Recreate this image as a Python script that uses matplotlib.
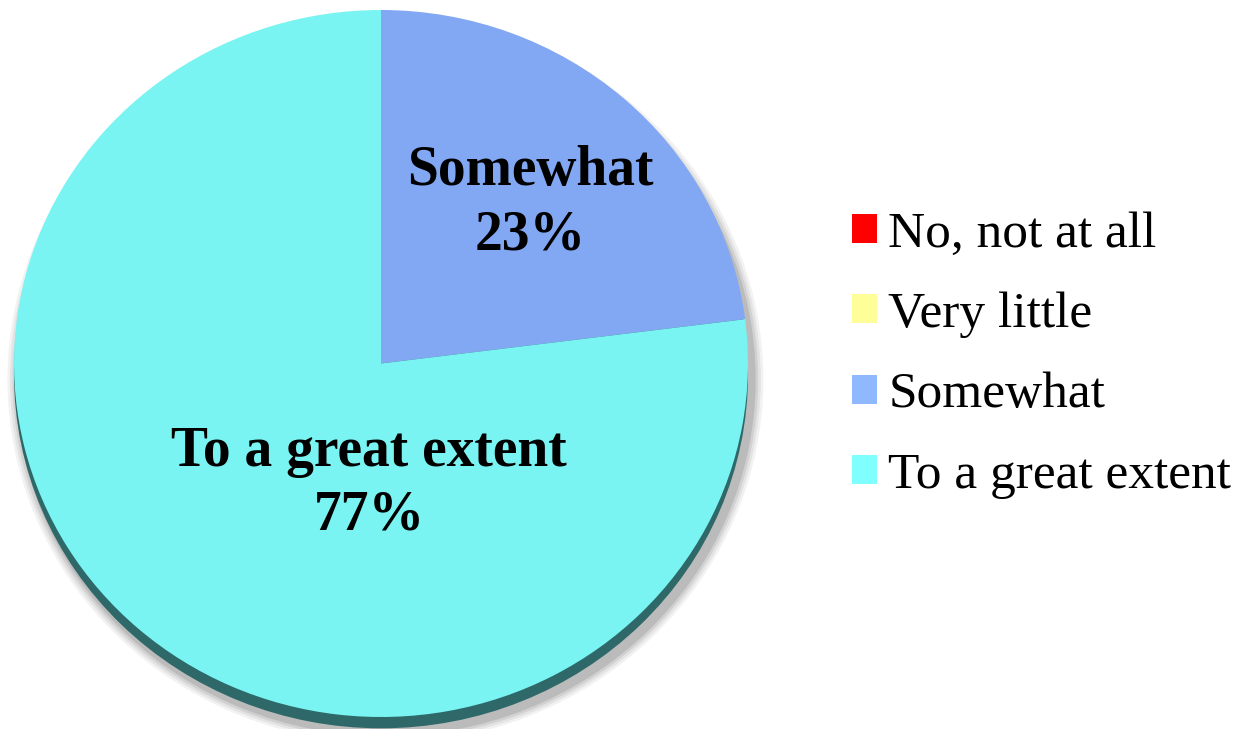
import matplotlib
matplotlib.use("Agg")
import matplotlib.pyplot as plt
from matplotlib.patches import Ellipse, Patch

categories = ["No, not at all", "Very little", "Somewhat", "To a great extent"]
values = [0, 0, 23, 77]
face_colors = ["#FF0000", "#FFFF99", "#82A7F3", "#79F4F2"]
legend_colors = ["#FF0000", "#FFFF99", "#8FB8FF", "#80FFFF"]

plt.rcParams['font.family'] = ['Liberation Serif', 'DejaVu Serif']

W, H = 1239, 729
fig = plt.figure(figsize=(W / 100, H / 100), dpi=100)

# pie bounding box in pixels
left, right, top, bottom = 14, 748, 10, 717
ax = fig.add_axes([left / W, 1 - bottom / H, (right - left) / W, (bottom - top) / H])

# soft gray drop shadow
for i, a in enumerate([0.05, 0.06, 0.08, 0.10]):
    grow = 0.030 - i * 0.007
    ax.add_patch(Ellipse((0.012, -0.045), 2 + grow * 2, 2 + grow * 2,
                         facecolor="#000000", alpha=a, edgecolor="none",
                         clip_on=False, zorder=0))
# extruded side
ax.add_patch(Ellipse((0, -0.032), 2, 2, facecolor="#2F6868",
                     edgecolor="none", clip_on=False, zorder=1))

wedges, _ = ax.pie(values, colors=face_colors, startangle=90,
                   counterclock=False, radius=1, center=(0, 0),
                   wedgeprops=dict(linewidth=0, edgecolor="none"),
                   frame=True)
for w in wedges:
    w.set_zorder(2)
    w.set_clip_on(False)
ax.set_aspect('auto')
ax.set_xlim(-1, 1)
ax.set_ylim(-1, 1)
ax.axis('off')

# label centers in pixels -> axes fraction
label_px = {2: (530, 203), 3: (369, 484)}
for i, (px, py) in label_px.items():
    ax.text((px - left) / (right - left), (bottom - py) / (bottom - top),
            f"{categories[i]}\n{values[i]}%", transform=ax.transAxes,
            ha="center", va="center", fontsize=40, fontweight="bold",
            linespacing=1.3, zorder=5)

handles = [Patch(facecolor=c, edgecolor="none") for c in legend_colors]
fig.legend(handles, categories, loc="center left",
           bbox_to_anchor=(852 / W, 1 - 355 / H),
           frameon=False, fontsize=37, handlelength=0.49, handleheight=0.49,
           handletextpad=0.22, labelspacing=0.66, borderpad=0, borderaxespad=0)

fig.savefig("out.png", dpi=100)
